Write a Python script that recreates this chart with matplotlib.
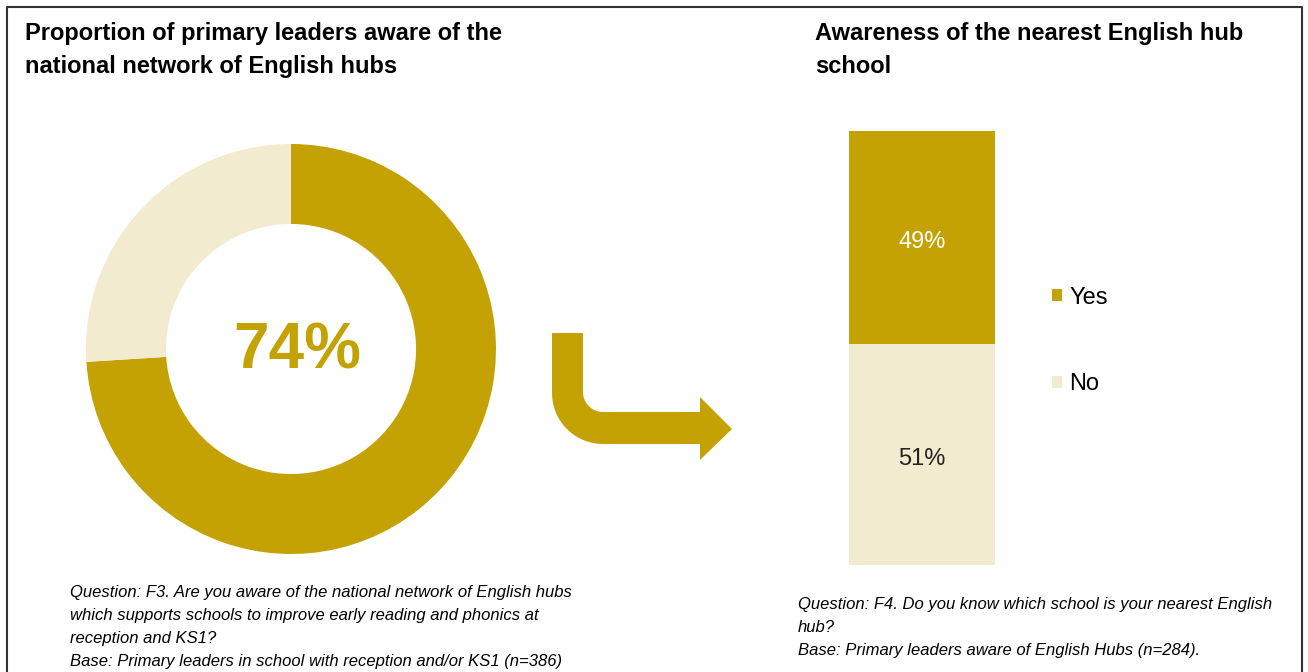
import numpy as np
import matplotlib
matplotlib.use('Agg')
from matplotlib import pyplot as plt
from matplotlib.path import Path
from matplotlib.patches import PathPatch

# data
donut_labels = ['Aware', 'Not aware']
donut_values = [74, 26]
bar_labels = ['Yes', 'No']
bar_values = [49, 51]

left_title = ['Proportion of primary leaders aware of the',
              'national network of English hubs']
right_title = ['Awareness of the nearest English hub', 'school']
left_note = ['Question: F3. Are you aware of the national network of English hubs',
             'which supports schools to improve early reading and phonics at',
             'reception and KS1?',
             'Base: Primary leaders in school with reception and/or KS1 (n=386)']
right_note = ['Question: F4. Do you know which school is your nearest English',
              'hub?',
              'Base: Primary leaders aware of English Hubs (n=284).']

GOLD = '#C4A204'
CREAM = '#F2EBCF'

plt.rcParams['font.family'] = ['Liberation Sans', 'DejaVu Sans']

W, H = 1308, 672
fig = plt.figure(figsize=(W / 100, H / 100), dpi=100)


def fx(px):
    return px / W


def fy(py):
    return 1 - py / H


# frame around the slide (top, left, right)
fig.add_artist(plt.Line2D([fx(7), fx(7), fx(1302), fx(1302)],
                          [0, fy(7), fy(7), 0], color='#333333', lw=1.5))

# titles, one line at a time
for i, line in enumerate(left_title):
    fig.text(fx(25), fy(40 + 33 * i), line, fontsize=17, fontweight='bold',
             va='baseline')
for i, line in enumerate(right_title):
    fig.text(fx(815), fy(40 + 33 * i), line, fontsize=17, fontweight='bold',
             va='baseline')

# donut
cx, cy, r = 291, 349, 205
ax1 = fig.add_axes([fx(cx - r), fy(cy + r), 2 * r / W, 2 * r / H])
ax1.pie(donut_values, colors=[GOLD, CREAM], startangle=90, counterclock=False,
        radius=1, wedgeprops=dict(width=0.39, edgecolor='none'))
ax1.set_xlim(-1, 1)
ax1.set_ylim(-1, 1)
ax1.axis('off')
ax1.text(0.03, -0.01, '{}%'.format(donut_values[0]), ha='center', va='center',
         fontsize=46, fontweight='bold', color=GOLD)

# stacked bar
ax2 = fig.add_axes([fx(849), fy(565), (995 - 849) / W, (565 - 131) / H])
bottom = 0
handles = []
for lab, val, col in zip(bar_labels[::-1], bar_values[::-1], [CREAM, GOLD]):
    b = ax2.bar(0, val, width=1, bottom=bottom, color=col, label=lab)
    handles.append(b)
    ax2.text(0, bottom + val / 2 - 1, '{}%'.format(val), ha='center', va='center',
             fontsize=17, color='white' if col == GOLD else '#222222')
    bottom += val
ax2.set_xlim(-0.5, 0.5)
ax2.set_ylim(0, 100)
ax2.axis('off')

# legend
fig.legend(handles[::-1], bar_labels, loc='center left',
           bbox_to_anchor=(fx(1031), fy(341)), frameon=False, fontsize=17,
           handlelength=0.42, handleheight=0.42, handletextpad=0.3,
           labelspacing=2.75, borderpad=0.4)

# bent arrow (decoration)
t = np.linspace(np.pi, 1.5 * np.pi, 20)
R_out, R_in = 51, 20
ox, oy = 603, 393
outer = [(ox + R_out * np.cos(a), oy - R_out * np.sin(a)) for a in t]
ix, iy = 603, 392
inner = [(ix + R_in * np.cos(a), iy - R_in * np.sin(a)) for a in t[::-1]]
pts = [(552, 333)] + outer + [(700, 444), (700, 460), (732, 429), (700, 397),
                               (700, 412)] + inner + [(583, 333), (552, 333)]
pts = [(fx(x), fy(y)) for x, y in pts]
codes = [Path.MOVETO] + [Path.LINETO] * (len(pts) - 2) + [Path.CLOSEPOLY]
fig.add_artist(PathPatch(Path(pts, codes), facecolor=GOLD, edgecolor='none',
                         transform=fig.transFigure))

# footnotes
for i, line in enumerate(left_note):
    fig.text(fx(70), fy(597 + 23 * i), line, fontsize=12, style='italic',
             va='baseline')
for i, line in enumerate(right_note):
    fig.text(fx(798), fy(609 + 23 * i), line, fontsize=12, style='italic',
             va='baseline')

fig.savefig('out.png', dpi=100)
